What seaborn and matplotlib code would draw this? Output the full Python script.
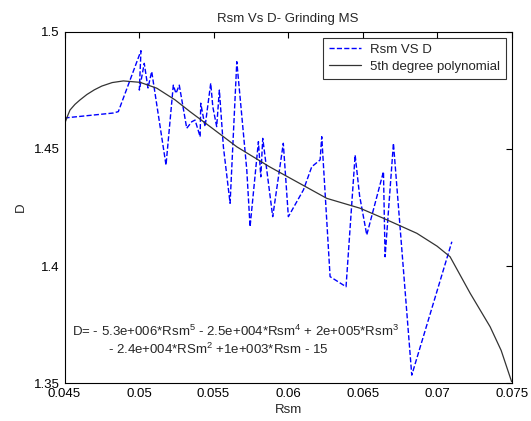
import numpy as np
import pandas as pd
import seaborn as sns
import matplotlib.pyplot as plt

rsm = [0.0450, 0.04826, 0.04861, 0.05013, 0.05002, 0.05035, 0.05060, 0.05085,
       0.05181, 0.05230, 0.05248, 0.05270, 0.05320, 0.05354, 0.05376, 0.05410,
       0.05414, 0.05443, 0.05481, 0.05495, 0.05521, 0.05539, 0.05566, 0.05611,
       0.05656, 0.05723, 0.05745, 0.05801, 0.05817, 0.05830, 0.05897, 0.05968,
       0.06002, 0.06103, 0.06159, 0.06215, 0.06226, 0.06282, 0.06389, 0.06450,
       0.06480, 0.06528, 0.06640, 0.06651, 0.06707, 0.06830, 0.07099]
d_vals = [1.4632, 1.4653, 1.4659, 1.4919, 1.4751, 1.4865, 1.4760, 1.4830,
          1.4431, 1.4772, 1.4737, 1.4772, 1.4588, 1.4616, 1.4623, 1.4552,
          1.4695, 1.4595, 1.4780, 1.4680, 1.4595, 1.4751, 1.4509, 1.4268,
          1.4872, 1.4410, 1.4168, 1.4531, 1.4381, 1.4545, 1.4211, 1.4524,
          1.4211, 1.4325, 1.4424, 1.4453, 1.4552, 1.3955, 1.3912, 1.4474,
          1.4300, 1.4133, 1.4403, 1.4040, 1.4524, 1.3535, 1.4104]

# 5th degree polynomial fit curve
poly_x = [0.0450, 0.04520, 0.04537, 0.04570, 0.04604, 0.04650, 0.04700, 0.04750,
          0.04820, 0.04895, 0.05007, 0.05119, 0.05242, 0.05342, 0.05477, 0.05656,
          0.05875, 0.06260, 0.06483, 0.06640, 0.06864, 0.07000, 0.07087, 0.07222,
          0.07356, 0.07430, 0.0750]
poly_y = [1.4606, 1.4640, 1.4666, 1.4690, 1.4709, 1.4732, 1.4752, 1.4768,
          1.4783, 1.4790, 1.4784, 1.4759, 1.4709, 1.4659, 1.4595, 1.4509,
          1.4424, 1.4289, 1.4247, 1.4204, 1.4140, 1.4085, 1.4040, 1.3884,
          1.3741, 1.3640, 1.3507]

x_ticks = [0.045, 0.05, 0.055, 0.06, 0.065, 0.07, 0.075]
x_labels = ['0.045', '0.05', '0.055', '0.06', '0.065', '0.07', '0.075']
y_ticks = [1.35, 1.4, 1.45, 1.5]
y_labels = ['1.35', '1.4', '1.45', '1.5']

sns.set_style("white")
plt.rcParams['font.family'] = ['Liberation Sans', 'DejaVu Sans']
plt.rcParams['mathtext.fontset'] = 'custom'
plt.rcParams['mathtext.rm'] = 'Liberation Sans'
plt.rcParams['mathtext.default'] = 'regular'

fs = 9.5

fig = plt.figure(figsize=(5.31, 4.21), dpi=100)
ax = fig.add_axes([0.1215, 0.0895, 0.842, 0.8352])

meas = pd.DataFrame({'Rsm': rsm, 'D': d_vals})
fit = pd.DataFrame({'Rsm': poly_x, 'D': poly_y})

sns.lineplot(data=meas, x='Rsm', y='D', sort=False, estimator=None, ax=ax,
             color='#0000ff', linestyle='--', linewidth=1.0, label='Rsm VS D')
sns.lineplot(data=fit, x='Rsm', y='D', sort=False, estimator=None, ax=ax,
             color='#333333', linewidth=0.9, label='5th degree polynomial')

ax.set_xlim(0.045, 0.075)
ax.set_ylim(1.35, 1.5)
ax.set_xticks(x_ticks)
ax.set_xticklabels(x_labels)
ax.set_yticks(y_ticks)
ax.set_yticklabels(y_labels)
ax.tick_params(direction='in', length=4, width=0.8, top=True, right=True,
               labelsize=fs, colors='black', pad=3.5)
for sp in ax.spines.values():
    sp.set_color('black')
    sp.set_linewidth(0.8)

ax.set_title('Rsm Vs D- Grinding MS', fontsize=fs, pad=7)
ax.set_xlabel('Rsm', fontsize=fs, labelpad=3)
ax.set_ylabel('D', fontsize=fs, labelpad=5)

ax.text(0.04548, 1.372,
        'D= - 5.3e+006*Rsm$^5$ - 2.5e+004*Rsm$^4$ + 2e+005*Rsm$^3$',
        fontsize=fs, va='center', ha='left')
ax.text(0.04792, 1.3646,
        '- 2.4e+004*RSm$^2$ +1e+003*Rsm - 15',
        fontsize=fs, va='center', ha='left')

leg = ax.legend(loc='upper right', fontsize=fs, frameon=True, fancybox=False,
                borderaxespad=0.45, handlelength=2.4, handletextpad=0.7,
                borderpad=0.45, labelspacing=0.35)
leg.get_frame().set_edgecolor('black')
leg.get_frame().set_linewidth(0.8)

fig.savefig('out.png', dpi=100, facecolor='white')
